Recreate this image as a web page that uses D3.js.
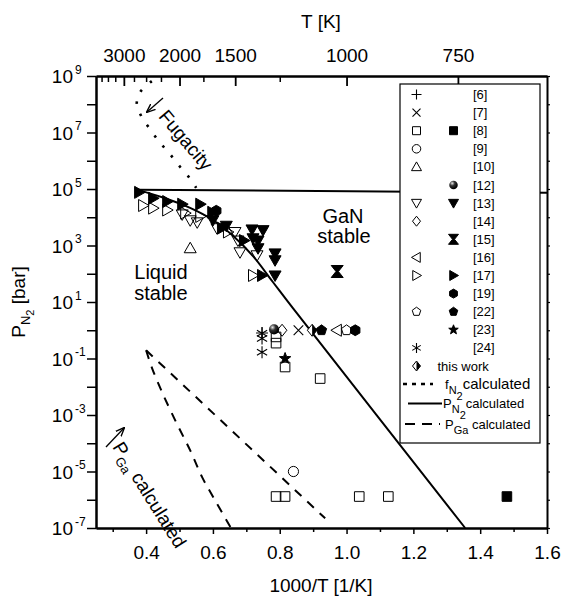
<!DOCTYPE html>
<html>
<head>
<meta charset="utf-8">
<script src="https://cdn.jsdelivr.net/npm/d3@7"></script>
<style>
  body { margin: 0; background: #fff; }
  svg { font-family: "Liberation Sans", Arial, sans-serif; }
</style>
</head>
<body>
<script>
const width = 564;
const height = 600;

// axis ticks
const xMajor = [0.4, 0.6, 0.8, 1.0, 1.2, 1.4, 1.6];
const xMinor = [0.3, 0.5, 0.7, 0.9, 1.1, 1.3, 1.5];
const tMajor = [3000, 2000, 1500, 1000, 750];
const tMinor = [3750, 3500, 3250, 2750, 2500, 2250, 1750, 1250];
const pExpLabelled = [-7, -5, -3, -1, 1, 3, 5, 7, 9];
const pExpMinor = [-6, -4, -2, 0, 2, 4, 6, 8];

// calculated curves: [1000/T, P (bar)]
const fugacityN2 = [[0.417, 6.6e8], [0.382, 2.7e8], [0.372, 1.05e8], [0.384, 4.1e7], [0.41, 1.4e7],
  [0.44, 4.6e6], [0.47, 1.8e6], [0.502, 6.0e5], [0.532, 2.3e5], [0.55, 1.1e5]];
const pN2Curve = [[0.372, 9.5e4], [0.45, 5.0e4], [0.53, 2.2e4], [0.6, 8.0e3], [0.66, 2.2e3],
  [0.72, 4.2e2], [0.78, 5.0e1], [0.84, 5.9], [1.355, 1.0e-7]];
const pN2Flat = [[0.372, 9.5e4], [1.6, 7.4e4]];
const pGaUpper = [[0.4, 0.195], [0.936, 2.2e-7]];
const pGaLower = [[0.4, 0.195], [0.418, 4.5e-2], [0.448, 6.3e-3], [0.49, 5.5e-4], [0.532, 5.6e-5],
  [0.568, 6.2e-6], [0.61, 8.1e-7], [0.654, 1.0e-7]];

// measured data: [1000/T, P (bar)]
const ref6 = [[0.747, 0.8]];
const ref7 = [[0.856, 1.0]];
const ref8Open = [[0.789, 0.58], [0.789, 0.35], [0.816, 0.05], [0.921, 0.0195],
  [0.789, 1.3e-6], [0.816, 1.3e-6], [1.038, 1.3e-6], [1.125, 1.3e-6]];
const ref8Filled = [[1.48, 1.3e-6]];
const ref9 = [[0.841, 1.0e-5]];
const ref10 = [[0.532, 800]];
const ref12 = [[0.783, 1.07]];
const ref13Open = [[0.508, 1.26e4], [0.532, 7.8e3], [0.553, 6.6e3], [0.612, 4.1e3], [0.666, 3.0e3],
  [0.675, 1.5e3], [0.681, 575], [0.732, 450]];
const ref13Filled = [[0.6, 7.9e3], [0.64, 5.0e3], [0.717, 3.7e3], [0.75, 3.5e3], [0.72, 1.8e3],
  [0.735, 1.5e3], [0.735, 800], [0.786, 525], [0.786, 300], [0.786, 87]];
const ref14 = [[0.807, 1.0]];
const ref15 = [[0.972, 120]];
const ref16 = [[0.971, 1.0]];
const ref17Open = [[0.391, 2.6e4], [0.421, 2.1e4], [0.463, 1.8e4], [0.517, 1.4e4], [0.562, 1.07e4],
  [0.645, 3.0e3], [0.72, 87]];
const ref17Filled = [[0.379, 7.6e4], [0.421, 4.7e4], [0.463, 3.6e4], [0.508, 2.9e4], [0.562, 2.9e4],
  [0.598, 1.5e4], [0.627, 4.1e3], [0.693, 1.5e3], [0.747, 87]];
const ref19 = [[0.61, 1.7e4], [1.026, 1.0]];
const ref22Open = [[1.0, 1.0]];
const ref22Filled = [[0.925, 1.0]];
const ref23 = [[0.816, 0.1]];
const ref24 = [[0.747, 0.78], [0.747, 0.51], [0.747, 0.166]];
const thisWork = [[0.897, 1.0]];

const markerSeries = [
  { data: ref13Open, sym: "triDown", filled: false },
  { data: ref17Open, sym: "triRight", filled: false },
  { data: ref10, sym: "triUp", filled: false },
  { data: ref13Filled, sym: "triDown", filled: true },
  { data: ref17Filled, sym: "triRight", filled: true },
  { data: ref19, sym: "hexagon", filled: true },
  { data: ref15, sym: "hourglass", filled: true },
  { data: ref8Open, sym: "square", filled: false },
  { data: ref8Filled, sym: "square", filled: true },
  { data: ref9, sym: "circle", filled: false },
  { data: ref12, sym: "sphere", filled: true },
  { data: ref14, sym: "diamond", filled: false },
  { data: ref7, sym: "cross", filled: false },
  { data: ref6, sym: "plus", filled: false },
  { data: ref24, sym: "asterisk", filled: false },
  { data: ref23, sym: "star", filled: true },
  { data: thisWork, sym: "halfDiamond", filled: false },
  { data: ref22Filled, sym: "pentagon", filled: true },
  { data: ref16, sym: "triLeft", filled: false },
  { data: ref22Open, sym: "pentagon", filled: false },
];

const legendRows = [
  { label: "[6]", c1: "plus" },
  { label: "[7]", c1: "cross" },
  { label: "[8]", c1: "square", c2: "square" },
  { label: "[9]", c1: "circle" },
  { label: "[10]", c1: "triUp" },
  { label: "[12]", c2: "sphere" },
  { label: "[13]", c1: "triDown", c2: "triDown" },
  { label: "[14]", c1: "diamond" },
  { label: "[15]", c2: "hourglass" },
  { label: "[16]", c1: "triLeft" },
  { label: "[17]", c1: "triRight", c2: "triRight" },
  { label: "[19]", c2: "hexagon" },
  { label: "[22]", c1: "pentagon", c2: "pentagon" },
  { label: "[23]", c2: "star" },
  { label: "[24]", c1: "asterisk" },
  { label: "this work", c1: "halfDiamond" },
];

const x = d3.scaleLinear([0.25, 1.6], [96, 547]);
const y = d3.scaleLog([1e-7, 1e9], [528, 76]);

const svg = d3.create("svg")
  .attr("width", width)
  .attr("height", height)
  .attr("viewBox", [0, 0, width, height]);

const defs = svg.append("defs");
const grad = defs.append("radialGradient").attr("id", "sphere")
  .attr("cx", "35%").attr("cy", "30%").attr("r", "65%");
grad.append("stop").attr("offset", "0%").attr("stop-color", "#e8e8e8");
grad.append("stop").attr("offset", "45%").attr("stop-color", "#333");
grad.append("stop").attr("offset", "100%").attr("stop-color", "#000");
defs.append("marker").attr("id", "arrow")
  .attr("viewBox", "0 0 10 10").attr("refX", 9).attr("refY", 5)
  .attr("markerWidth", 7).attr("markerHeight", 7).attr("orient", "auto")
  .append("path").attr("d", "M0,1 L10,5 L0,9").attr("fill", "none")
  .attr("stroke", "#000").attr("stroke-width", 1.5);

function symbolPath(type, r) {
  const p = d3.path();
  const poly = (pts) => {
    pts.forEach(([a, b], i) => (i ? p.lineTo(a, b) : p.moveTo(a, b)));
    p.closePath();
  };
  const ring = (n, rr, rot) =>
    d3.range(n).map((i) => {
      const a = (2 * Math.PI / n) * i + rot;
      return [rr * Math.cos(a), rr * Math.sin(a)];
    });
  switch (type) {
    case "square": poly([[-r * 0.8, -r * 0.8], [r * 0.8, -r * 0.8], [r * 0.8, r * 0.8], [-r * 0.8, r * 0.8]]); break;
    case "circle":
    case "sphere": p.moveTo(r * 0.85, 0); p.arc(0, 0, r * 0.85, 0, 2 * Math.PI); break;
    case "triUp": poly([[0, -r], [r, r * 0.75], [-r, r * 0.75]]); break;
    case "triDown": poly([[0, r], [r, -r * 0.75], [-r, -r * 0.75]]); break;
    case "triLeft": poly([[-r, 0], [r * 0.75, -r], [r * 0.75, r]]); break;
    case "triRight": poly([[r, 0], [-r * 0.75, -r], [-r * 0.75, r]]); break;
    case "diamond":
    case "halfDiamond": poly([[0, -r], [r * 0.8, 0], [0, r], [-r * 0.8, 0]]); break;
    case "hexagon": poly(ring(6, r * 0.9, -Math.PI / 2)); break;
    case "pentagon": poly(ring(5, r * 0.9, -Math.PI / 2)); break;
    case "star":
      poly(d3.range(10).map((i) => {
        const a = (Math.PI / 5) * i - Math.PI / 2;
        const rr = i % 2 ? r * 0.42 : r;
        return [rr * Math.cos(a), rr * Math.sin(a)];
      }));
      break;
    case "hourglass": poly([[-r, -r], [r, -r], [r * 0.2, 0], [r, r], [-r, r], [-r * 0.2, 0]]); break;
    case "plus": p.moveTo(-r, 0); p.lineTo(r, 0); p.moveTo(0, -r); p.lineTo(0, r); break;
    case "cross": p.moveTo(-r * 0.8, -r * 0.8); p.lineTo(r * 0.8, r * 0.8); p.moveTo(r * 0.8, -r * 0.8); p.lineTo(-r * 0.8, r * 0.8); break;
    case "asterisk":
      p.moveTo(0, -r); p.lineTo(0, r);
      p.moveTo(-r * 0.85, -r * 0.5); p.lineTo(r * 0.85, r * 0.5);
      p.moveTo(r * 0.85, -r * 0.5); p.lineTo(-r * 0.85, r * 0.5);
      break;
  }
  return p.toString();
}

function drawSymbol(g, type, filled, cx, cy, r) {
  const s = g.append("g").attr("transform", `translate(${cx},${cy})`);
  const path = s.append("path").attr("d", symbolPath(type, r)).attr("stroke", "#000").attr("stroke-width", 1);
  if (type === "sphere") path.attr("fill", "url(#sphere)").attr("stroke", "none");
  else if (["plus", "cross", "asterisk"].includes(type)) path.attr("fill", "none").attr("stroke-width", 1.1);
  else if (type === "halfDiamond") {
    path.attr("fill", "#fff");
    s.append("path").attr("d", `M0,${-r}L${r * 0.8},0L0,${r}Z`).attr("fill", "#000");
  } else path.attr("fill", filled ? "#000" : "none");
}

// ---- axes ----
const axisStyle = (g, w) => {
  g.select(".domain").attr("stroke-width", 2);
  g.selectAll(".tick line").attr("stroke-width", w);
};

// bottom
svg.append("g").attr("transform", "translate(0,528)")
  .call(d3.axisBottom(x).tickValues(xMinor).tickSize(4).tickSizeOuter(0).tickFormat(""))
  .call((g) => axisStyle(g, 1.5));
svg.append("g").attr("transform", "translate(0,528)")
  .call(d3.axisBottom(x).tickValues(xMajor).tickSize(6).tickSizeOuter(0).tickFormat(d3.format(".1f")))
  .call((g) => axisStyle(g, 1.5))
  .call((g) => g.selectAll("text").attr("font-size", 19).attr("dy", null).attr("y", 31).attr("fill", "#000"));

// top (temperature)
svg.append("g").attr("transform", "translate(0,76)")
  .call(d3.axisTop(x).tickValues(tMinor.map((t) => 1000 / t)).tickSizeInner(-6).tickSizeOuter(0).tickFormat(""))
  .call((g) => axisStyle(g, 1.5));
svg.append("g").attr("transform", "translate(0,76)")
  .call(d3.axisTop(x).tickValues(tMajor.map((t) => 1000 / t)).tickSizeInner(-10).tickSizeOuter(0)
    .tickFormat((v) => Math.round(1000 / v)))
  .call((g) => axisStyle(g, 1.8))
  .call((g) => g.selectAll("text").attr("font-size", 19).attr("y", -14).attr("fill", "#000"));

// left
const left = svg.append("g").attr("transform", "translate(96,0)")
  .call(d3.axisLeft(y).tickValues(pExpMinor.map((e) => 10 ** e)).tickSize(9).tickSizeOuter(0).tickFormat(""))
  .call((g) => axisStyle(g, 1.5));
const leftMajor = svg.append("g").attr("transform", "translate(96,0)")
  .call(d3.axisLeft(y).tickValues(pExpLabelled.map((e) => 10 ** e)).tickSize(9).tickSizeOuter(0).tickFormat(""))
  .call((g) => axisStyle(g, 1.5));
leftMajor.selectAll(".tick text").remove();
leftMajor.selectAll(".tick").each(function (d) {
  const t = d3.select(this);
  const e = Math.round(Math.log10(d));
  t.append("text").attr("x", -23).attr("y", 6.5).attr("text-anchor", "end")
    .attr("font-size", 19).attr("fill", "#000").text("10");
  t.append("text").attr("x", -21).attr("y", -3).attr("text-anchor", "start")
    .attr("font-size", 12).attr("fill", "#000").text(e);
});

// right
svg.append("g").attr("transform", "translate(547,0)")
  .call(d3.axisRight(y).tickValues(d3.range(-7, 10).map((e) => 10 ** e)).tickSize(3).tickSizeOuter(0).tickFormat(""))
  .call((g) => axisStyle(g, 1.2));

// axis titles
svg.append("text").attr("x", 321).attr("y", 28).attr("text-anchor", "middle")
  .attr("font-size", 19).text("T [K]");
svg.append("text").attr("x", 321).attr("y", 592).attr("text-anchor", "middle")
  .attr("font-size", 19).text("1000/T [1/K]");
const yTitle = svg.append("text").attr("transform", "translate(25,302) rotate(-90)")
  .attr("text-anchor", "middle").attr("font-size", 19);
yTitle.append("tspan").text("P");
yTitle.append("tspan").attr("font-size", 13).attr("dy", 5).text("N");
yTitle.append("tspan").attr("font-size", 11).attr("dy", 4).text("2");
yTitle.append("tspan").attr("dy", -9).text(" [bar]");

// ---- curves ----
const line = d3.line().x((d) => x(d[0])).y((d) => y(d[1]));
const lineSmooth = d3.line().x((d) => x(d[0])).y((d) => y(d[1])).curve(d3.curveCatmullRom);

svg.append("path").datum(fugacityN2).attr("d", lineSmooth).attr("fill", "none")
  .attr("stroke", "#000").attr("stroke-width", 2.6).attr("stroke-dasharray", "2.5 10.5");
svg.append("path").datum(pN2Flat).attr("d", line).attr("fill", "none")
  .attr("stroke", "#000").attr("stroke-width", 2);
svg.append("path").datum(pN2Curve).attr("d", lineSmooth).attr("fill", "none")
  .attr("stroke", "#000").attr("stroke-width", 2);
svg.append("path").datum(pGaUpper).attr("d", line).attr("fill", "none")
  .attr("stroke", "#000").attr("stroke-width", 2).attr("stroke-dasharray", "9 8");
svg.append("path").datum(pGaLower).attr("d", lineSmooth).attr("fill", "none")
  .attr("stroke", "#000").attr("stroke-width", 2).attr("stroke-dasharray", "9 8");

// ---- markers ----
const gm = svg.append("g");
markerSeries.forEach((s) => {
  s.data.forEach((d) => drawSymbol(gm, s.sym, s.filled, x(d[0]), y(d[1]), 6));
});

// ---- annotations ----
svg.append("text").attr("transform", "translate(186,140) rotate(50)")
  .attr("text-anchor", "middle").attr("dy", "0.35em").attr("font-size", 19).text("Fugacity");
svg.append("line").attr("x1", 163).attr("y1", 98).attr("x2", 147).attr("y2", 112)
  .attr("stroke", "#000").attr("stroke-width", 1.3).attr("marker-end", "url(#arrow)");

svg.append("text").attr("x", 343).attr("y", 223).attr("text-anchor", "middle").attr("font-size", 20).text("GaN");
svg.append("text").attr("x", 344).attr("y", 243).attr("text-anchor", "middle").attr("font-size", 20).text("stable");
svg.append("text").attr("x", 161).attr("y", 279).attr("text-anchor", "middle").attr("font-size", 20).text("Liquid");
svg.append("text").attr("x", 161).attr("y", 300).attr("text-anchor", "middle").attr("font-size", 20).text("stable");

const pga = svg.append("text").attr("transform", "translate(112,447) rotate(58)").attr("font-size", 19);
pga.append("tspan").text("P");
pga.append("tspan").attr("font-size", 13).attr("dy", 5).text("Ga");
pga.append("tspan").attr("dy", -5).text(" calculated");
svg.append("line").attr("x1", 106).attr("y1", 447).attr("x2", 124).attr("y2", 428)
  .attr("stroke", "#000").attr("stroke-width", 1.3).attr("marker-end", "url(#arrow)");

// ---- legend ----
const lg = svg.append("g");
lg.append("rect").attr("x", 400).attr("y", 84).attr("width", 140).attr("height", 359)
  .attr("fill", "#fff").attr("stroke", "#000").attr("stroke-width", 1.2);
legendRows.forEach((row, i) => {
  const cy = 94.5 + i * 18.1;
  if (row.c1) drawSymbol(lg, row.c1, false, 416.5, cy, 5);
  if (row.c2) drawSymbol(lg, row.c2, true, 453.5, cy, 5);
  lg.append("text").attr("x", row.label === "this work" ? 437.5 : 473).attr("y", cy + 4.5)
    .attr("font-size", 13).text(row.label);
});
const lineRows = [
  { y: 384, dash: "4 5", x1: 403, x2: 433, tx: 445, sub: "N", sub2: "2", size: 15, w: 2.5 },
  { y: 403.5, dash: null, x1: 408, x2: 442, tx: 443, sub: "N", sub2: "2", size: 13, w: 2 },
  { y: 424, dash: "10 7", x1: 405, x2: 440, tx: 445, sub: "Ga", sub2: null, size: 13, w: 2 },
];
const lineLabels = ["f", "P", "P"];
lineRows.forEach((r, i) => {
  lg.append("line").attr("x1", r.x1).attr("x2", r.x2).attr("y1", r.y).attr("y2", r.y)
    .attr("stroke", "#000").attr("stroke-width", r.w).attr("stroke-dasharray", r.dash);
  const t = lg.append("text").attr("x", r.tx).attr("y", r.y + 4.5).attr("font-size", 13);
  t.append("tspan").text(lineLabels[i]);
  t.append("tspan").attr("font-size", 11).attr("dy", 5).text(r.sub);
  if (r.sub2) t.append("tspan").attr("font-size", 11).attr("dy", 6).text(r.sub2);
  t.append("tspan").attr("font-size", r.size).attr("dy", r.sub2 ? -11 : -5)
    .text((r.sub2 ? "" : " ") + "calculated");
});

document.body.appendChild(svg.node());
</script>
</body>
</html>
